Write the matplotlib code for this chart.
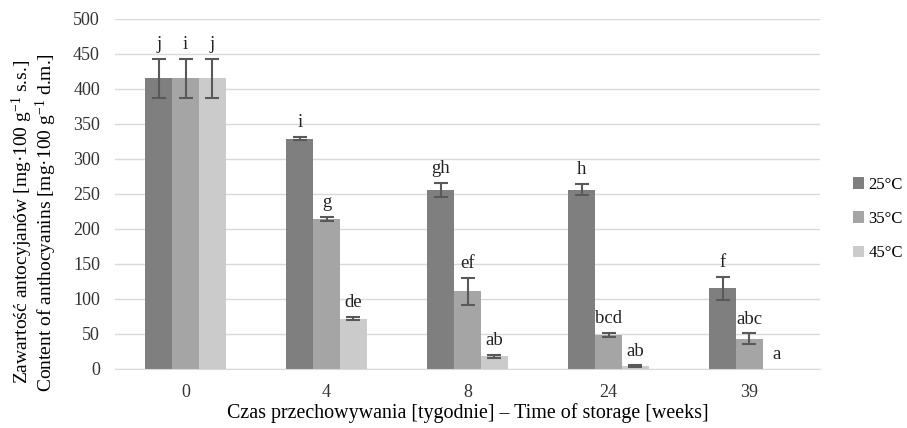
import numpy as np
import matplotlib
matplotlib.use("Agg")
import matplotlib.pyplot as plt

plt.rcParams['font.family'] = ['Liberation Serif', 'DejaVu Serif']
plt.rcParams['mathtext.fontset'] = 'custom'
plt.rcParams['mathtext.rm'] = 'Liberation Serif'
plt.rcParams['mathtext.it'] = 'Liberation Serif'

# storage time in weeks
weeks = ['0', '4', '8', '24', '39']
temps = ['25°C', '35°C', '45°C']

# anthocyanin content (mg/100 g d.m.) and error bars
vals_25 = [415, 329, 256, 256, 115]
vals_35 = [415, 214, 111, 49, 43]
vals_45 = [415, 72, 18, 4, 0]
err_25 = [28, 2, 10, 8, 17]
err_35 = [28, 3, 19, 3, 8]
err_45 = [28, 2, 2, 1, 0]

# significance letters
lab_25 = ['j', 'i', 'gh', 'h', 'f']
lab_35 = ['i', 'g', 'ef', 'bcd', 'abc']
lab_45 = ['j', 'de', 'ab', 'ab', 'a']

colors = ['#7f7f7f', '#a5a5a5', '#cbcbcb']

fig = plt.figure(figsize=(9.07, 4.28), dpi=100)
ax = fig.add_axes([0.127, 0.138, 0.777, 0.818])

x = np.arange(len(weeks))
w = 0.19
series = [(vals_25, err_25, lab_25), (vals_35, err_35, lab_35), (vals_45, err_45, lab_45)]
for i, (v, e, lab) in enumerate(series):
    pos = x + (i - 1) * w
    v = np.array(v)
    e = np.array(e)
    ax.bar(pos, v, w, color=colors[i], label=temps[i], zorder=2)
    m = e > 0
    ax.errorbar(pos[m], v[m], yerr=e[m], fmt='none', ecolor='#595959', elinewidth=1.5,
                capsize=5, capthick=1.5, zorder=3)
    for px, vv, ee, t in zip(pos, v, e, lab):
        ax.annotate(t, (px, vv + ee), xytext=(0, 7), textcoords='offset points',
                    ha='center', va='baseline', fontsize=13.5, color='#222222')

ax.set_ylim(0, 500)
ax.set_xlim(-0.5, len(weeks) - 0.5)
ax.set_yticks(np.arange(0, 501, 50))
ax.set_xticks(x)
ax.set_xticklabels(weeks)
ax.yaxis.grid(True, color='#d9d9d9', linewidth=1, zorder=0)
ax.set_axisbelow(True)
for s in ['top', 'right', 'left']:
    ax.spines[s].set_visible(False)
ax.spines['bottom'].set_color('#d9d9d9')
ax.tick_params(axis='both', length=0, labelsize=13, colors='#333333')
ax.tick_params(axis='x', pad=11)
ax.tick_params(axis='y', pad=11)

ax.set_xlabel('Czas przechowywania [tygodnie] – Time of storage [weeks]',
              fontsize=14.4, labelpad=1)
fig.text(0.038, 0.481,
         'Zawartość antocyjanów [mg·100 g$^{-1}$ s.s.]\n'
         'Content of anthocyanins [mg·100 g$^{-1}$ d.m.]',
         rotation=90, ha='center', va='center', fontsize=14, linespacing=0.95)

fig.legend(loc='center left', bbox_to_anchor=(0.940, 0.488), frameon=False,
           fontsize=12, handlelength=0.7, handleheight=0.7,
           handletextpad=0.25, labelspacing=1.1, borderaxespad=0, borderpad=0)

fig.savefig('out.png', dpi=100)
